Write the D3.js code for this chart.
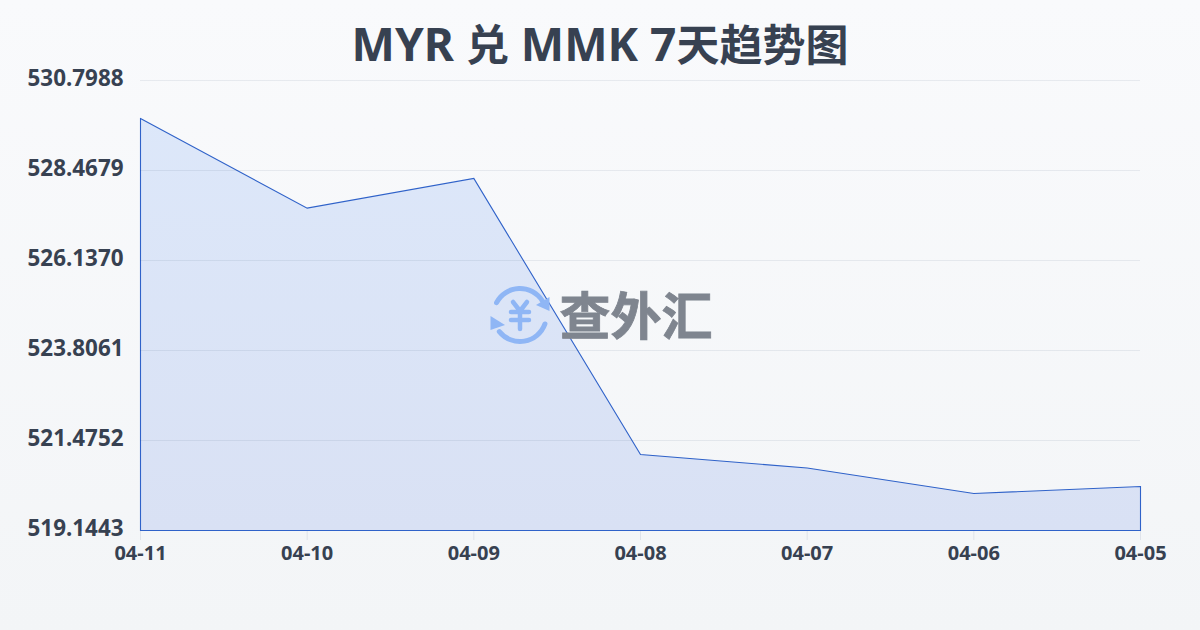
<!DOCTYPE html>
<html><head><meta charset="utf-8">
<script src="https://cdn.jsdelivr.net/npm/d3@7/dist/d3.min.js"></script>
<style>html,body{margin:0;padding:0;width:1200px;height:630px;overflow:hidden}svg{display:block}</style>
</head><body><svg id="c" width="1200" height="630"></svg>
<script>
const titleParts = ["MYR ","兑"," MMK 7","天趋势图"];
const dates = ["04-11","04-10","04-09","04-08","04-07","04-06","04-05"];
const rates = [529.80,527.48,528.25,521.10,520.75,520.09,520.27];
const yTickLabels = ["519.1443","521.4752","523.8061","526.1370","528.4679","530.7988"];
const watermarkText = "查外汇";
const font = '"Noto Sans","Noto Sans CJK SC",sans-serif';

const svg = d3.select("#c");
const defs = svg.append("defs");
const bg = defs.append("linearGradient").attr("id","bg").attr("x1",0).attr("y1",0).attr("x2",0).attr("y2",1);
bg.append("stop").attr("offset",0).attr("stop-color","#f9fafc");
bg.append("stop").attr("offset",1).attr("stop-color","#f3f5f7");
const ag = defs.append("linearGradient").attr("id","ag").attr("gradientUnits","userSpaceOnUse").attr("x1",0).attr("y1",80).attr("x2",0).attr("y2",530);
ag.append("stop").attr("offset",0).attr("stop-color","#dde8fa");
ag.append("stop").attr("offset",1).attr("stop-color","#d9e1f4");
svg.append("rect").attr("width",1200).attr("height",630).attr("fill","url(#bg)");

const x = d3.scalePoint().domain(dates).range([140.5,1140.5]);
const y = d3.scaleLinear().domain([+yTickLabels[0],+yTickLabels[5]]).range([530,80]);

svg.append("text").attr("x",600).attr("y",60.5).attr("text-anchor","middle").attr("xml:space","preserve")
  .style("white-space","pre")
  .attr("font-family",font).attr("font-weight",700).attr("fill","#374151")
  .selectAll("tspan").data(titleParts).join("tspan")
  .attr("font-size",(d,i)=>i%2?43:46).text(d=>d);

// area
const area = d3.area().x((d,i)=>x(dates[i])).y0(y.range()[0]+0.5).y1(d=>y(d));
svg.append("path").datum(rates).attr("d",area).attr("fill","url(#ag)")
  .attr("stroke","#2f62c9").attr("stroke-width",1.1);

// grid
svg.append("g").selectAll("line").data(yTickLabels.slice(1)).join("line")
  .attr("x1",140).attr("x2",1140)
  .attr("y1",d=>Math.round(y(+d))+0.5).attr("y2",d=>Math.round(y(+d))+0.5)
  .attr("stroke","#1f2f55").attr("stroke-opacity",0.08);

// y labels
svg.append("g").selectAll("text").data(yTickLabels).join("text")
  .attr("x",123.5).attr("y",d=>y(+d)+5.6)
  .attr("text-anchor","end").attr("font-family",font).attr("font-weight",700)
  .attr("font-size",22.4).attr("fill","#374151").text(d=>d);

// x ticks
svg.append("g").selectAll("line").data(dates).join("line")
  .attr("x1",d=>x(d)).attr("x2",d=>x(d))
  .attr("y1",531).attr("y2",540).attr("stroke","#dfe3ea");
svg.append("g").selectAll("text").data(dates).join("text")
  .attr("x",d=>x(d)).attr("y",560).attr("text-anchor","middle")
  .attr("font-family",font).attr("font-weight",700).attr("font-size",20).attr("fill","#374151").text(d=>d);

// watermark
const w = svg.append("g");
const ic = w.append("g").attr("transform","translate(520,315)");
const arc = d3.arc().innerRadius(24).outerRadius(29).cornerRadius(2.5);
ic.append("path").attr("d",arc({startAngle:-1.18,endAngle:1.1})).attr("fill","#8fb6f5");
ic.append("path").attr("d",arc({startAngle:1.82,endAngle:4.13})).attr("fill","#8fb6f5");
ic.append("path").attr("d","M29.5 -4 L29.5 -18 L16 -10 Z").attr("fill","#8fb6f5");
ic.append("path").attr("d","M-29.5 1 L-29.5 15 L-15 10 Z").attr("fill","#8fb6f5");
ic.append("path").attr("d","M-7 -13 L0 -4 L7 -13 M-9 -3 H9 M-9 5 H9 M0 -4 V14")
  .attr("fill","none").attr("stroke","#8fb6f5").attr("stroke-width",4.5).attr("stroke-linecap","round").attr("stroke-linejoin","round");
w.append("text").attr("x",636).attr("y",335).attr("text-anchor","middle")
  .attr("font-family",font).attr("font-weight",700).attr("font-size",51).attr("fill","#7f858f")
  .attr("stroke","#7f858f").attr("stroke-width",0.8).text(watermarkText);
</script></body></html>
